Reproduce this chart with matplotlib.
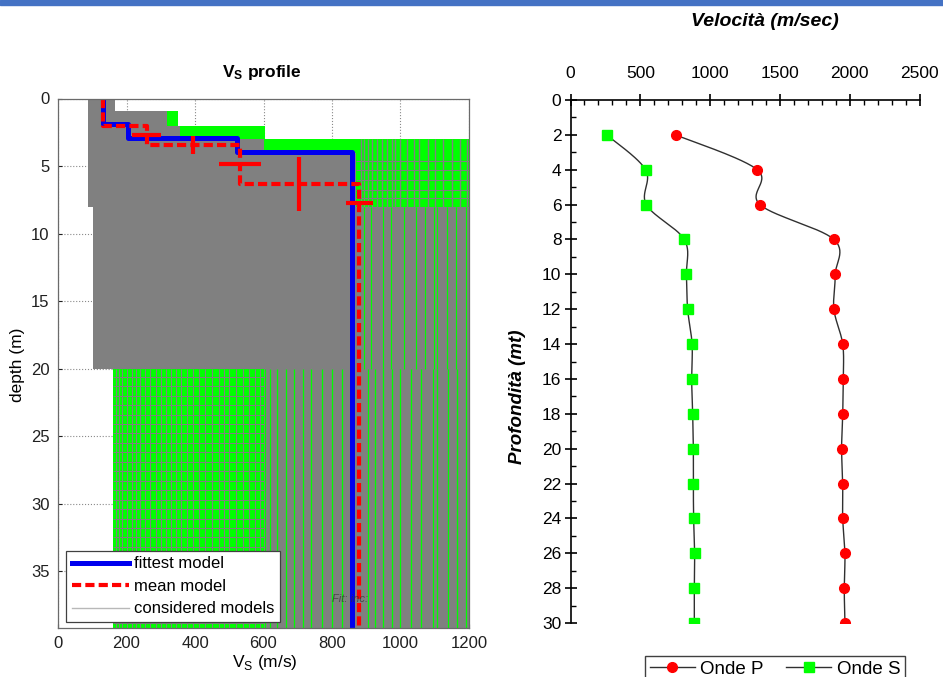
import numpy as np
import matplotlib
matplotlib.use('Agg')
import matplotlib.pyplot as plt
from matplotlib.patches import Rectangle
from matplotlib.lines import Line2D
from matplotlib.ticker import MultipleLocator

plt.rcParams['font.family'] = ['Liberation Sans', 'DejaVu Sans']
plt.rcParams['mathtext.fontset'] = 'custom'
plt.rcParams['mathtext.rm'] = 'Liberation Sans'
plt.rcParams['mathtext.bf'] = 'Liberation Sans:bold'

# ---------------- left panel data (Vs profile) ----------------
fit_vs = [132, 205, 522, 857]
fit_iface = [1.9, 2.95, 3.98]
mean_vs = [132, 259, 531, 880]
mean_iface = [2.0, 3.42, 6.35]
herr_vs = [259, 531, 880]
herr_depth = [2.71, 4.88, 7.75]
herr_dv = [43, 61, 39]
verr_vs = [395, 705]
verr_depth = [3.42, 6.35]
verr_dz = [0.68, 2.0]

# envelope of all considered models
env_depth = [0, 0.95, 2.0, 3.02, 8.0, 20.0, 39.2]
env_left = [88, 88, 88, 88, 103, 161]
env_right = [166, 351, 604, 1200, 1200, 1200]
# dense gray core of considered models
core_depth = [0, 0.95, 2.0, 3.02, 4.0, 8.0, 20.0]
core_left = [88, 88, 88, 88, 88, 103]
core_right = [166, 318, 356, 600, 870, 870]
# texture of considered models
r1_gray_vs = [885, 893, 905, 918, 930, 945, 960, 975, 985, 1000, 1020, 1040,
              1055, 1080, 1100, 1125, 1150, 1175, 1195]
r1_gray_depth = [4.6, 5.3, 6.0, 6.8, 7.4]
r2_green_vs = [893, 915, 948, 972, 1010, 1045, 1072, 1098, 1108, 1135, 1162, 1190]
r3_green_vs = [605, 618, 640, 665, 690, 715, 740, 770, 800, 830, 905, 925, 950,
               975, 1000, 1030, 1060, 1095, 1108, 1140, 1165, 1190]
r4_gray_vs = [168, 178, 188, 200, 215, 228, 240, 255, 270, 285, 300, 315, 330,
              345, 360, 378, 395, 412, 430, 450, 470, 485, 500, 520, 540, 558,
              575, 590]
r4_gray_depth = [20.6, 21.3, 22.0, 22.7, 23.4, 24.1, 24.8, 25.5, 26.2, 26.9,
                 27.6, 28.3, 29.0, 29.7, 30.4, 31.1, 31.8, 32.5, 33.2, 33.9,
                 34.6, 35.3, 36.0, 36.7, 37.4, 38.1, 38.8]

# ---------------- right panel data ----------------
prof = [2, 4, 6, 8, 10, 12, 14, 16, 18, 20, 22, 24, 26, 28, 30]
vel_p = [753, 1338, 1357, 1887, 1897, 1887, 1950, 1954, 1950, 1942, 1950, 1950, 1966, 1961, 1966]
vel_s = [259, 538, 543, 815, 830, 839, 871, 868, 875, 880, 880, 882, 889, 887, 887]

GREEN = '#00ff00'
GRAY = '#808080'

W, H = 943, 677
fig = plt.figure(figsize=(W / 100, H / 100), dpi=100)
fig.patches.append(Rectangle((0, 1 - 4.5 / H), 1, 4.5 / H, transform=fig.transFigure,
                             color='#4472c4', zorder=0))

# ================= LEFT PANEL =================
ax1 = fig.add_axes([58 / W, 1 - 628 / H, 411 / W, 529.5 / H])
ax1.set_xlim(0, 1200)
ax1.set_ylim(39.2, 0)


def step_fill(ax, depths, lefts, rights, color, z):
    for i in range(len(lefts)):
        ax.fill_betweenx([depths[i], depths[i + 1]], lefts[i], rights[i],
                         color=color, lw=0, zorder=z)


step_fill(ax1, env_depth, env_left, env_right, GREEN, 1)
step_fill(ax1, core_depth, core_left, core_right, GRAY, 2)
# region 1: depth 3-8, right side, green with gray lines
ax1.vlines(r1_gray_vs, 3.02, 8.0, color=GRAY, lw=1.0, zorder=2)
ax1.hlines(r1_gray_depth, 870, 1200, color=GRAY, lw=0.8, zorder=2)
# region 2: depth 8-20, right side, gray with green lines
ax1.fill_betweenx([8.0, 20.0], 870, 1200, color=GRAY, lw=0, zorder=2)
ax1.vlines(r2_green_vs, 8.0, 20.0, color=GREEN, lw=0.8, zorder=3)
# region 3: depth 20-bottom, right part
ax1.fill_betweenx([20.0, 39.2], 600, 1200, color=GRAY, lw=0, zorder=2)
ax1.vlines(r3_green_vs, 20.0, 39.2, color=GREEN, lw=0.9, zorder=3)
# region 4: depth 20-bottom, left part
ax1.vlines(r4_gray_vs, 20.0, 39.2, color=GRAY, lw=0.8, zorder=2)
ax1.hlines(r4_gray_depth, 161, 600, color=GRAY, lw=0.7, zorder=2)


def step_xy(vs, iface, bottom):
    xs, ys = [], []
    tops = [0] + list(iface)
    bots = list(iface) + [bottom]
    for v, t, b in zip(vs, tops, bots):
        xs += [v, v]
        ys += [t, b]
    return xs, ys


fx, fy = step_xy(fit_vs, fit_iface, 39.2)
ax1.plot(fx, fy, color='#0000ee', lw=3.6, zorder=5, solid_joinstyle='round')
mx, my = step_xy(mean_vs, mean_iface, 39.2)
ax1.plot(mx, my, color='#ff0000', lw=3.0, ls=(0, (2.2, 1.0)), zorder=6)
ax1.errorbar(herr_vs, herr_depth, xerr=herr_dv, fmt='none', ecolor='#ff0000',
             elinewidth=3.0, capsize=0, zorder=6)
ax1.errorbar(verr_vs, verr_depth, yerr=verr_dz, fmt='none', ecolor='#ff0000',
             elinewidth=3.0, capsize=0, zorder=6)

ax1.text(800, 37.3, 'Fit: inc:', style='italic', fontsize=8, color='#303030',
         alpha=0.7, zorder=7)

ax1.set_xticks(range(0, 1201, 200))
ax1.set_yticks(range(0, 36, 5))
ax1.grid(True, ls=':', color='#8a8a8a', lw=0.8, zorder=0)
ax1.set_axisbelow(True)
ax1.tick_params(direction='in', length=3, labelsize=12, colors='#202020', pad=6)
for s in ax1.spines.values():
    s.set_color('#6a6a6a')
    s.set_linewidth(0.9)
    s.set_zorder(10)

handles = [Line2D([], [], color='#0000ee', lw=3.6),
           Line2D([], [], color='#ff0000', lw=3.0, ls=(0, (2.2, 1.0))),
           Line2D([], [], color='#b8b8b8', lw=1.0)]
leg1 = ax1.legend(handles, ['fittest model', 'mean model', 'considered models'],
                  loc='lower left', bbox_to_anchor=(0.02, 0.011), borderaxespad=0,
                  fontsize=12, frameon=True, fancybox=False, edgecolor='#404040',
                  framealpha=1, handlelength=3.4, handletextpad=0.3,
                  labelspacing=0.45, borderpad=0.35)
leg1.get_frame().set_linewidth(0.9)
leg1.set_zorder(20)

fig.text(262 / W, 1 - 73 / H, r'$\mathbf{V_S}$ profile', ha='center', va='center',
         fontsize=12.5, fontweight='bold')
fig.text(265 / W, 1 - 662 / H, r'V$_\mathrm{S}$ (m/s)', ha='center', va='center',
         fontsize=12.5)
fig.text(18 / W, 1 - 365 / H, 'depth (m)', rotation=90, ha='center', va='center',
         fontsize=12.5)

# ================= RIGHT PANEL =================
ax2 = fig.add_axes([570.5 / W, 1 - 623 / H, 349 / W, 523 / H])
ax2.set_xlim(0, 2500)
ax2.set_ylim(30, 0)


def catmull(xv, yv, n=30):
    x = np.asarray(xv, float)
    y = np.asarray(yv, float)
    px = np.concatenate([[x[0]], x, [x[-1]]])
    py = np.concatenate([[y[0]], y, [y[-1]]])
    ox, oy = [], []
    t = np.linspace(0, 1, n)
    for i in range(1, len(px) - 2):
        p0, p1, p2, p3 = px[i - 1], px[i], px[i + 1], px[i + 2]
        q0, q1, q2, q3 = py[i - 1], py[i], py[i + 1], py[i + 2]
        ox.append(0.5 * (2 * p1 + (-p0 + p2) * t + (2 * p0 - 5 * p1 + 4 * p2 - p3) * t ** 2
                         + (-p0 + 3 * p1 - 3 * p2 + p3) * t ** 3))
        oy.append(0.5 * (2 * q1 + (-q0 + q2) * t + (2 * q0 - 5 * q1 + 4 * q2 - q3) * t ** 2
                         + (-q0 + 3 * q1 - 3 * q2 + q3) * t ** 3))
    return np.concatenate(ox), np.concatenate(oy)


cpx, cpy = catmull(vel_p, prof)
csx, csy = catmull(vel_s, prof)
ax2.plot(cpx, cpy, color='#303030', lw=1.0, zorder=2)
ax2.plot(csx, csy, color='#303030', lw=1.0, zorder=2)
ax2.plot(vel_p, prof, ls='none', marker='o', ms=7, color='#ff0000', zorder=3)
ax2.plot(vel_s, prof, ls='none', marker='s', ms=6.5, color=GREEN, zorder=3)

ax2.xaxis.tick_top()
ax2.set_xticks(range(0, 2501, 500))
ax2.xaxis.set_minor_locator(MultipleLocator(100))
ax2.set_yticks(range(0, 31, 2))
ax2.yaxis.set_minor_locator(MultipleLocator(1))
ax2.tick_params(which='major', direction='inout', length=9, width=1.2,
                labelsize=12.5, colors='black')
ax2.tick_params(axis='x', which='major', pad=9)
ax2.tick_params(axis='y', which='major', pad=2)
ax2.tick_params(which='minor', direction='in', length=3.5, width=1.0)
ax2.spines['right'].set_visible(False)
ax2.spines['bottom'].set_visible(False)
ax2.spines['top'].set_linewidth(1.2)
ax2.spines['left'].set_linewidth(1.2)
ax2.patch.set_alpha(0)

fig.text(765 / W, 1 - 22 / H, 'Velocità (m/sec)', ha='center', va='center',
         fontsize=14, fontweight='bold', style='italic')
fig.text(517 / W, 1 - 397 / H, 'Profondità (mt)', rotation=90, ha='center',
         va='center', fontsize=13.5, fontweight='bold', style='italic')

h2 = [Line2D([], [], color='#303030', lw=1.0, marker='o', ms=7, mfc='#ff0000', mec='#ff0000'),
      Line2D([], [], color='#303030', lw=1.0, marker='s', ms=6.5, mfc=GREEN, mec=GREEN)]
leg2 = fig.legend(h2, ['Onde P', 'Onde S'], loc='upper left',
                  bbox_to_anchor=(645 / W, 1 - 656 / H), bbox_transform=fig.transFigure,
                  ncol=2, fontsize=13.5, frameon=True, fancybox=False, edgecolor='#404040',
                  framealpha=1, handlelength=2.4, handletextpad=0.3, columnspacing=1.2,
                  borderpad=0.25, borderaxespad=0)
leg2.get_frame().set_linewidth(1.0)

fig.savefig('out.png', dpi=100)
